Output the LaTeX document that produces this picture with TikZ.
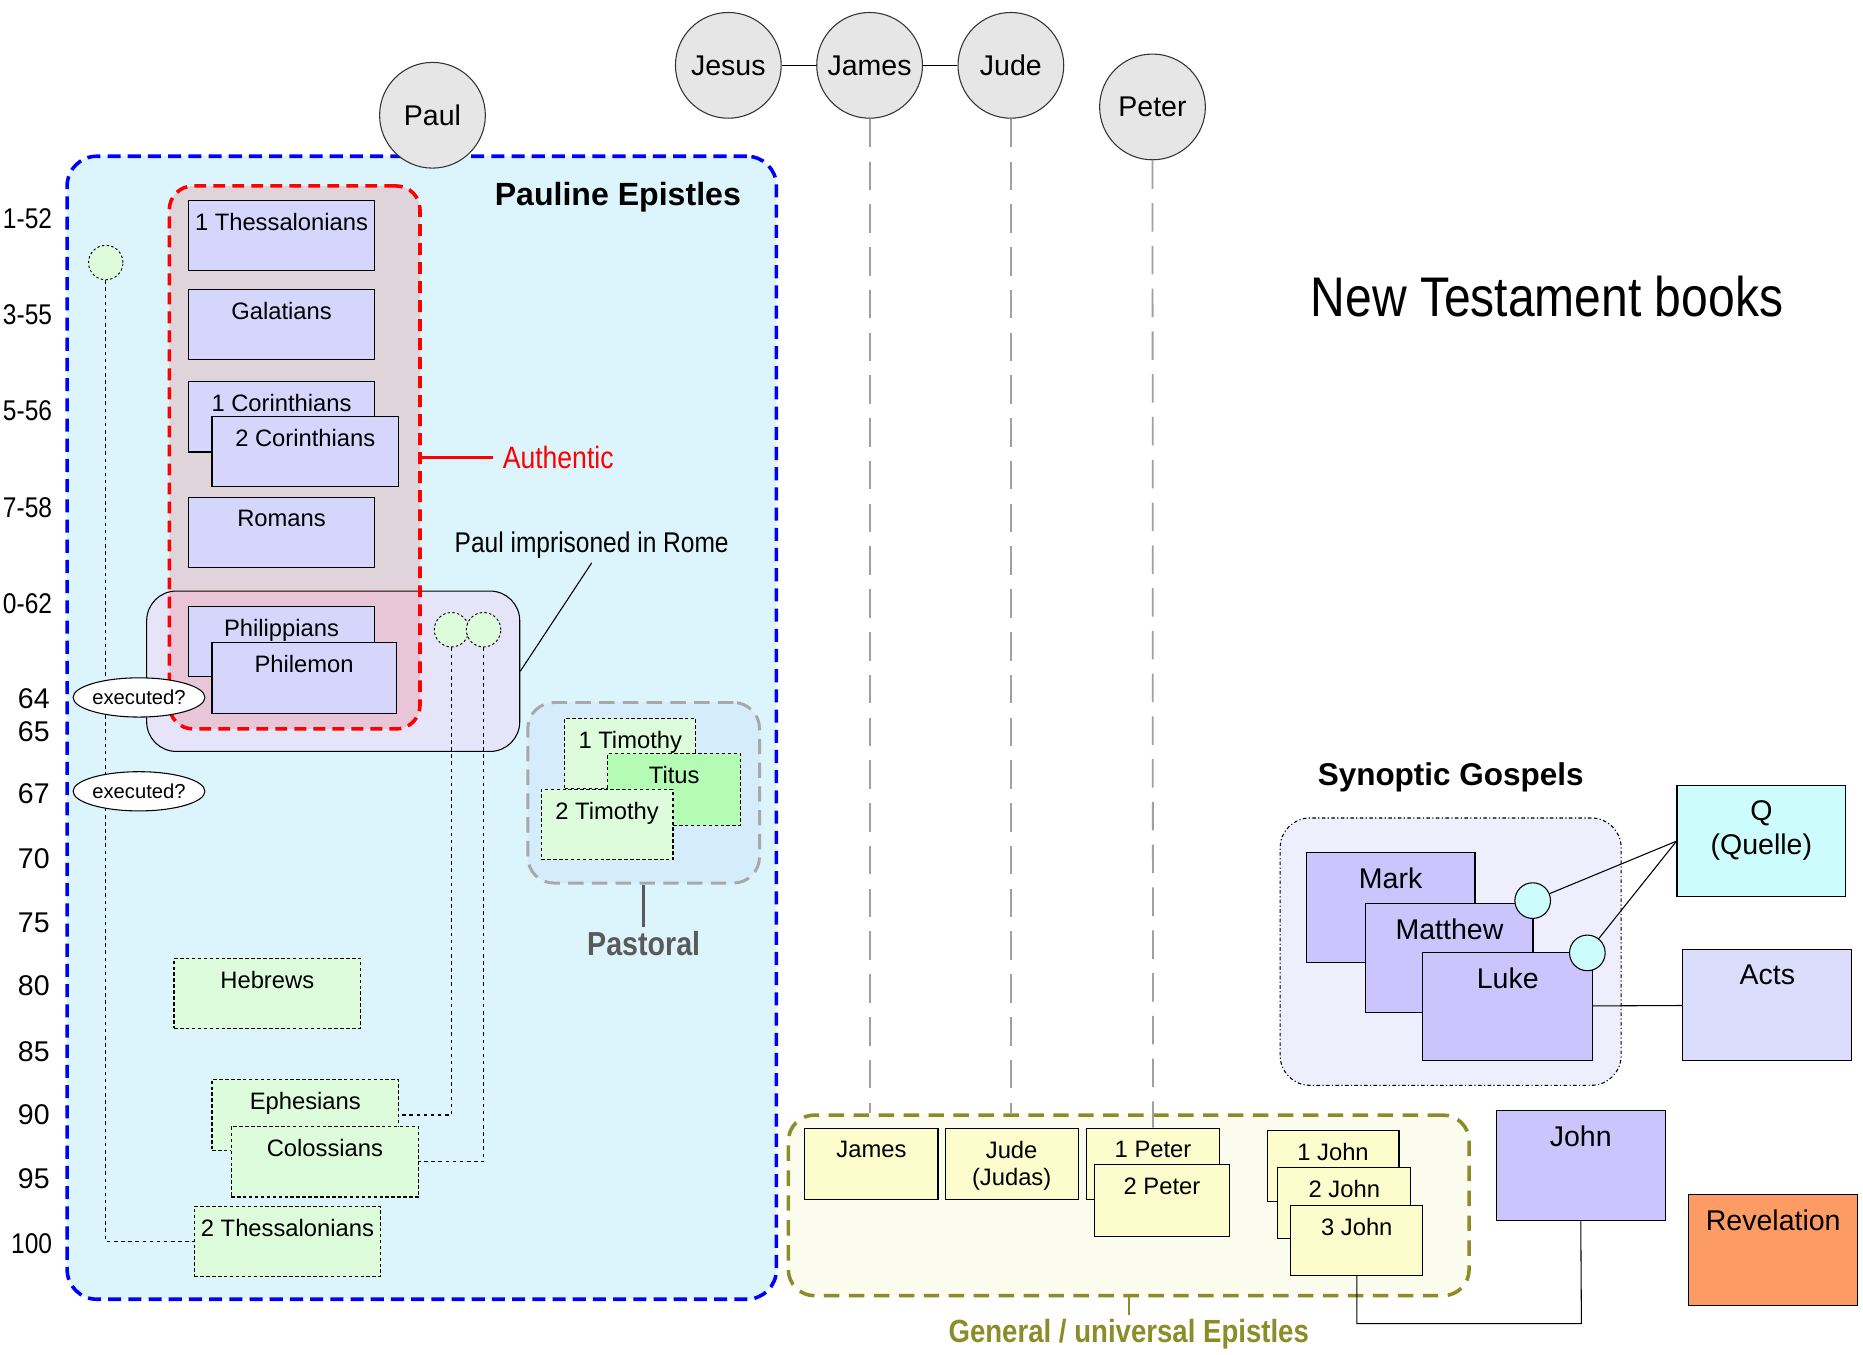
\documentclass[tikz,border=0pt]{standalone}
\usepackage{fontspec}
\setmainfont{Liberation Sans}
\newfontfamily\narrowfont[FakeStretch=0.86]{Liberation Sans}
\usetikzlibrary{positioning,shapes.geometric}

\definecolor{paulinecyan}{RGB}{220,244,252}
\definecolor{prisonlav}{RGB}{230,228,248}
\definecolor{authblue}{RGB}{214,214,252}
\definecolor{latergreen}{RGB}{220,252,220}
\definecolor{titusgreen}{RGB}{180,252,180}
\definecolor{pastoralblue}{RGB}{212,236,252}
\definecolor{pastoralgray}{RGB}{168,168,168}
\definecolor{pastoraltext}{RGB}{90,90,90}
\definecolor{genolive}{RGB}{140,140,40}
\definecolor{generalfill}{RGB}{252,252,238}
\definecolor{generalyellow}{RGB}{252,252,204}
\definecolor{synopfill}{RGB}{238,238,252}
\definecolor{gospelpurple}{RGB}{204,196,252}
\definecolor{actsblue}{RGB}{220,220,252}
\definecolor{quellecyan}{RGB}{204,252,252}
\definecolor{revorange}{RGB}{252,156,100}
\definecolor{persongray}{RGB}{230,230,230}
\definecolor{lifegray}{RGB}{160,160,160}

\tikzset{
  grp/.style={anchor=north west, rounded corners=#1, inner sep=0pt},
  boxsize/.style 2 args={minimum width=#1pt, minimum height=#2pt},
  booktext/.style={anchor=north, yshift=-9pt, inner sep=2pt, align=center, font=\fontsize{20}{23}\selectfont},
  book/.style={draw, line width=0.9pt, anchor=north west, inner sep=0pt, label={[booktext]north:#1}},
  authbook/.style={book=#1, boxsize={157}{59}, fill=authblue},
  later/.style={book=#1, fill=latergreen, dash pattern=on 3pt off 2pt},
  genbook/.style={book=#1, boxsize={112}{60}, fill=generalyellow},
  gospel/.style={draw, line width=0.9pt, anchor=north west, inner sep=0pt, boxsize={142}{93},
    label={[booktext, yshift=-2pt, font=\fontsize{24}{28}\selectfont]north:#1}},
  person/.style={circle, draw=black!80, line width=0.9pt, fill=persongray, minimum size=89pt,
    inner sep=0pt, font=\fontsize{24}{28}\selectfont},
  tinydot/.style={circle, draw, line width=0.8pt, dash pattern=on 2pt off 2pt, fill=latergreen,
    minimum size=29pt, inner sep=0pt},
  qdot/.style={circle, draw, line width=0.9pt, fill=quellecyan, minimum size=30pt, inner sep=0pt},
  execnote/.style={ellipse, draw, line width=0.9pt, fill=white, minimum width=106pt,
    minimum height=33pt, inner sep=0pt, font=\fontsize{17}{20}\selectfont},
  yearlbl/.style={anchor=east, inner sep=0pt, font=\fontsize{24}{28}\selectfont},
  rangelbl/.style={anchor=east, inner sep=0pt, font=\narrowfont\fontsize{24}{28}\selectfont},
  dotline/.style={line width=0.9pt, dash pattern=on 3pt off 3pt},
  lifeline/.style={draw=lifegray, line width=1.5pt, dash pattern=on 24pt off 12pt},
}

\begin{document}
\begin{tikzpicture}[x=1pt, y=-1pt]
\useasboundingbox (0,0) rectangle (1568,1140);

% Pauline epistles
\node[grp=25pt, boxsize={597}{962}, fill=paulinecyan, draw=blue, line width=3pt,
      dash pattern=on 11pt off 6pt] (pauline) at (55,130) {};
\node[person] (paul) at (364,97) {Paul};
\node[font=\bfseries\fontsize{27}{31}\selectfont] (paulinelbl) at (520,166) {Pauline Epistles};

\node[rangelbl] (y52) at (44,184) {1-52};
\node[rangelbl] (y55) at (44,265) {3-55};
\node[rangelbl] (y56) at (44,346) {5-56};
\node[rangelbl] (y58) at (44,427) {7-58};
\node[rangelbl] (y62) at (44,508) {0-62};
\node[yearlbl] (y64) at (42,588) {64};
\node[yearlbl] (y65) at (42,616) {65};
\node[yearlbl] (y67) at (42,668) {67};
\node[yearlbl] (y70) at (42,723) {70};
\node[yearlbl] (y75) at (42,777) {75};
\node[yearlbl] (y80) at (42,830) {80};
\node[yearlbl] (y85) at (42,885) {85};
\node[yearlbl] (y90) at (42,938) {90};
\node[yearlbl] (y95) at (42,992) {95};
\node[rangelbl] (y100) at (44,1047) {100};

\node[grp=25pt, boxsize={314}{135}, fill=prisonlav, draw, line width=0.9pt] (prison) at (123,497) {};
\node[grp=20pt, boxsize={211}{457}, draw=red, fill=red, fill opacity=0.13, draw opacity=1,
      line width=3pt, dash pattern=on 10pt off 6pt] (authentic) at (141,155) {};

\node[authbook=1 Thessalonians] (thessA) at (158,168) {};
\node[authbook=Galatians] (galatians) at (158,243) {};
\node[authbook=1 Corinthians] (corA) at (158,321) {};
\node[authbook=2 Corinthians] (corB) at (178,350) {};
\node[authbook=Romans] (romans) at (158,418) {};
\node[authbook=Philippians] (philippians) at (158,510) {};
\node[authbook=Philemon, boxsize={155}{60}] (philemon) at (178,540) {};

\node[font=\narrowfont\fontsize{26}{30}\selectfont, text=red, inner sep=8pt] (authlbl) [right=60pt of authentic] {Authentic};
\draw[red, line width=2.5pt] (authentic) -- (authlbl);

\node[font=\narrowfont\fontsize{24}{28}\selectfont] (prisonlbl) at (498,459) {Paul imprisoned in Rome};
\draw[line width=0.9pt] (prisonlbl.south) -- (prison.east);

\node[later=Hebrews, boxsize={157}{59}] (hebrews) at (146,806) {};
\node[later=Ephesians, boxsize={157}{60}] (ephesians) at (178,908) {};
\node[later=Colossians, boxsize={158}{59}] (colossians) at (194,948) {};
\node[later=2 Thessalonians, boxsize={157}{59}] (thessB) at (163,1015) {};

\node[tinydot] (dotA) at (89,221) {};
\node[tinydot] (dotB) at (380,530) {};
\node[tinydot] (dotC) at (407,530) {};
\draw[dotline] (dotA) |- (thessB.west);
\draw[dotline] (dotB) |- (ephesians.east);
\draw[dotline] (dotC) |- (colossians.east);
\node[execnote] (execA) at (117,587) {executed?};
\node[execnote] (execB) at (117,666) {executed?};

% pastoral
\node[grp=22pt, boxsize={195}{152}, fill=pastoralblue, draw=pastoralgray, line width=2.5pt,
      dash pattern=on 13pt off 7pt] (pastoral) at (443,590) {};
\node[later=1 Timothy, boxsize={110}{59}] (timA) at (475,604) {};
\node[later=Titus, boxsize={112}{60}, fill=titusgreen] (titus) at (511,634) {};
\node[later=2 Timothy, boxsize={111}{59}] (timB) at (455,664) {};
\node[font=\narrowfont\bfseries\fontsize{28}{32}\selectfont, text=pastoraltext] (pastlbl) [below=36pt of pastoral] {Pastoral};
\draw[pastoraltext, line width=2pt] (pastoral) -- (pastlbl);

% people
\node[person] (jesus) at (613,55) {Jesus};
\node[person] (james) [right=29pt of jesus] {James};
\node[person] (jude) [right=29pt of james] {Jude};
\node[person] (peter) at (970,90) {Peter};
\draw[line width=0.9pt] (jesus) -- (james);
\draw[line width=0.9pt] (james) -- (jude);

% general epistles
\node[grp=22pt, boxsize={573}{152}, fill=generalfill, draw=genolive, line width=3pt,
      dash pattern=on 13pt off 8pt] (general) at (662,937) {};
\node[genbook=James] (jamesB) at (677,949) {};
\node[genbook={Jude\\(Judas)}] (judeB) at (795,949) {};
\node[genbook=1 Peter] (peterA) at (914,949) {};
\node[genbook=2 Peter, boxsize={113}{60}] (peterB) at (921,980) {};
\node[genbook=1 John, boxsize={111}{60}] (johnA) at (1066,951) {};
\node[genbook=2 John] (johnB) at (1075,982) {};
\node[genbook=3 John, boxsize={111}{59}] (johnC) at (1086,1014) {};
\node[font=\narrowfont\bfseries\fontsize{27}{31}\selectfont, text=genolive] (genlbl) [below=15pt of general] {General / universal Epistles};
\draw[genolive, line width=2pt] (general) -- (genlbl);

\draw[lifeline] (james) -- (james |- general.north);
\draw[lifeline] (jude) -- (jude |- general.north);
\draw[lifeline] (peter) -- (peterA);

% gospels
\node[grp=25pt, boxsize={287}{225}, fill=synopfill, draw, line width=0.9pt,
      dash pattern=on 3pt off 2pt on 1pt off 2pt] (synoptic) at (1077,688) {};
\node[font=\bfseries\fontsize{26.5}{30}\selectfont] (synoplbl) at (1221,654) {Synoptic Gospels};
\node[gospel=Mark, fill=gospelpurple] (mark) at (1099,717) {};
\node[gospel=Matthew, boxsize={141}{92}, fill=gospelpurple] (matthew) at (1149,760) {};
\node[qdot] (mq) at (1290,758) {};
\draw[line width=0.9pt] (mq) -- (mq |- matthew.south);
\node[gospel=Luke, boxsize={143}{91}, fill=gospelpurple] (luke) at (1197,801) {};
\node[qdot] (lq) at (1336,802) {};
\node[gospel={Q\\(Quelle)}, fill=quellecyan] (quelle) at (1411,661) {};
\node[gospel=Acts, fill=actsblue] (acts) at (1416,799) {};
\node[gospel=John, fill=gospelpurple] (john) at (1259,934) {};
\node[gospel=Revelation, fill=revorange] (revelation) at (1421,1005) {};
\draw[line width=0.9pt] (mq) -- (quelle.west);
\draw[line width=0.9pt] (lq) -- (quelle.west);
\draw[line width=0.9pt] (luke) -- (acts);
\coordinate (johnbend) at (1331,1114);
\draw[line width=0.9pt] (john.south) -- (johnbend) -| (johnC.south);

\node[font=\narrowfont\fontsize{47}{54}\selectfont] (title) at (1302,250) {New Testament books};

\end{tikzpicture}
\end{document}
